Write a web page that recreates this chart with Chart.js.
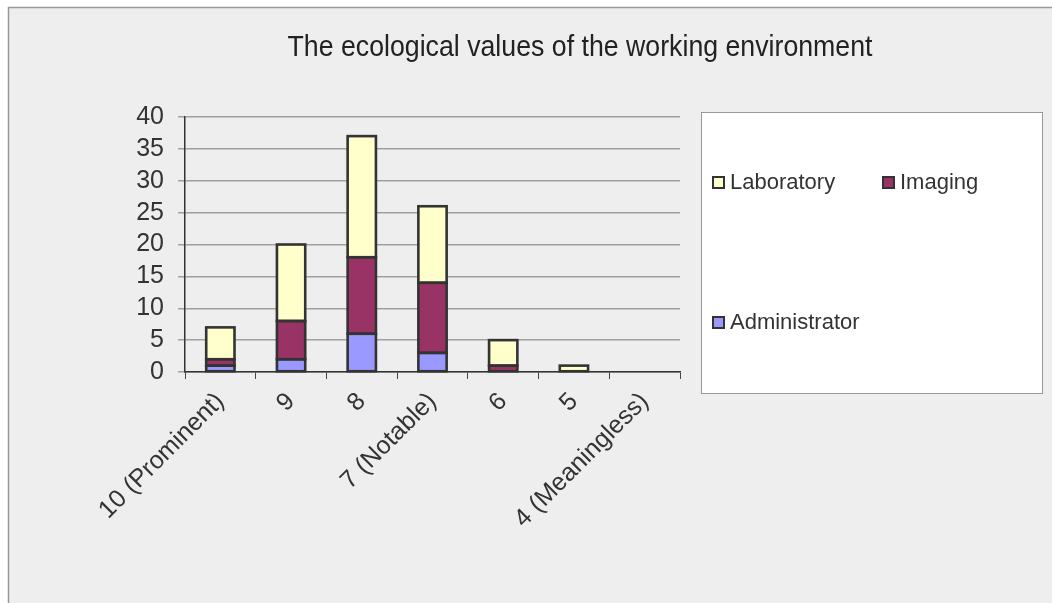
<!DOCTYPE html>
<html>
<head>
<meta charset="utf-8">
<script src="https://cdn.jsdelivr.net/npm/chart.js@4.4.1/dist/chart.umd.min.js"></script>
<style>
  html, body { margin: 0; padding: 0; background: #ffffff; }
  #wrap { position: relative; width: 1052px; height: 603px; }
</style>
</head>
<body>
<div id="wrap"><canvas id="chart" width="1052" height="603"></canvas></div>
<script>
// Rating categories (x axis)
const categories = ['10 (Prominent)', '9', '8', '7 (Notable)', '6', '5', '4 (Meaningless)'];

// Number of answers per rating, by workplace
const administrator = [1, 2, 6, 3, 0, 0, 0];
const imaging       = [1, 6, 12, 11, 1, 0, 0];
const laboratory    = [5, 12, 19, 12, 4, 1, 0];

// Y axis range
const yMin = 0;
const yMax = 40;
const yStep = 5;

const chartTitle = 'The ecological values of the working environment';

const FONT = '"Liberation Sans", Arial, sans-serif';
const TEXT = '#333333';
const OUTLINE = '#333333';

// Dark outline centred on each bar segment's edges (so thin segments keep their fill)
const outlinePlugin = {
  id: 'outline',
  afterDatasetsDraw(chart) {
    const ctx = chart.ctx;
    ctx.save();
    ctx.strokeStyle = OUTLINE;
    ctx.lineWidth = 2.6;
    chart.data.datasets.forEach((d, i) => {
      const meta = chart.getDatasetMeta(i);
      meta.data.forEach((bar, j) => {
        if (!d.data[j]) return;
        const p = bar.getProps(['x', 'y', 'base', 'width']);
        const top = Math.min(p.y, p.base);
        const h = Math.abs(p.base - p.y);
        ctx.strokeRect(p.x - p.width / 2, top, p.width, h);
      });
    });
    ctx.restore();
  }
};

// Grey frame, background, title and boxed legend drawn around the plot
const framePlugin = {
  id: 'frame',
  beforeDraw(chart) {
    const ctx = chart.ctx;
    ctx.save();
    ctx.fillStyle = '#ffffff';
    ctx.fillRect(0, 0, chart.width, chart.height);
    ctx.fillStyle = '#eeeeee';
    ctx.fillRect(8, 7, chart.width - 8, chart.height - 7);
    ctx.strokeStyle = '#999999';
    ctx.lineWidth = 1.5;
    ctx.beginPath();
    ctx.moveTo(8.5, chart.height);
    ctx.lineTo(8.5, 7.5);
    ctx.lineTo(chart.width, 7.5);
    ctx.stroke();
    ctx.restore();
  },
  afterDraw(chart) {
    const ctx = chart.ctx;
    ctx.save();
    // title, set in a condensed width
    ctx.fillStyle = '#222222';
    ctx.font = '29px ' + FONT;
    ctx.textAlign = 'center';
    ctx.textBaseline = 'middle';
    const tw = ctx.measureText(chartTitle).width;
    const target = 585;
    ctx.translate(580, 48);
    ctx.scale(target / tw, 1);
    ctx.fillText(chartTitle, 0, 0);
    ctx.restore();

    // legend box
    ctx.save();
    const bx = 701, by = 112, bw = 341, bh = 281;
    ctx.fillStyle = '#ffffff';
    ctx.fillRect(bx, by, bw, bh);
    ctx.strokeStyle = '#999999';
    ctx.lineWidth = 1;
    ctx.strokeRect(bx + 0.5, by + 0.5, bw, bh);
    const ds = chart.data.datasets;
    const slots = [
      { i: 2, x: 712, y: 182 },
      { i: 1, x: 882, y: 182 },
      { i: 0, x: 712, y: 322 }
    ];
    ctx.font = '22px ' + FONT;
    ctx.textBaseline = 'middle';
    ctx.textAlign = 'left';
    slots.forEach(s => {
      const d = ds[s.i];
      ctx.fillStyle = OUTLINE;
      ctx.fillRect(s.x, s.y - 6, 13, 13);
      ctx.fillStyle = d.backgroundColor;
      ctx.fillRect(s.x + 2, s.y - 4, 9, 9);
      ctx.fillStyle = TEXT;
      ctx.fillText(d.label, s.x + 18, s.y + 1);
    });
    ctx.restore();
  }
};

new Chart(document.getElementById('chart'), {
  type: 'bar',
  data: {
    labels: categories,
    datasets: [
      { label: 'Administrator', data: administrator, backgroundColor: '#9999ff' },
      { label: 'Imaging', data: imaging, backgroundColor: '#993366' },
      { label: 'Laboratory', data: laboratory, backgroundColor: '#ffffcc' }
    ].map(d => Object.assign(d, {
      borderWidth: 0,
      categoryPercentage: 0.8,
      barPercentage: 0.5
    }))
  },
  options: {
    responsive: false,
    animation: false,
    events: [],
    layout: { padding: { left: 0, right: 372, top: 117, bottom: 0 } },
    plugins: {
      legend: { display: false },
      title: { display: false },
      tooltip: { enabled: false }
    },
    scales: {
      x: {
        stacked: true,
        grid: {
          display: true,
          drawOnChartArea: false,
          drawTicks: true,
          tickLength: 7,
          color: '#444444',
          offset: true
        },
        border: { color: '#333333', width: 1.5 },
        ticks: {
          color: TEXT,
          font: { family: FONT, size: 25 },
          maxRotation: 45,
          minRotation: 45,
          padding: 8,
          autoSkip: false
        },
        afterFit(scale) { scale.height = 231; }
      },
      y: {
        stacked: true,
        min: yMin,
        max: yMax,
        ticks: {
          stepSize: yStep,
          color: TEXT,
          font: { family: FONT, size: 25, lineHeight: 0.8 },
          padding: 14,
          autoSkip: false
        },
        grid: {
          color: '#a0a0a0',
          lineWidth: 1.5,
          tickLength: 7,
          drawTicks: true
        },
        border: { color: '#333333', width: 1.5 },
        afterFit(scale) { scale.width = 185; }
      }
    }
  },
  plugins: [outlinePlugin, framePlugin]
});
</script>
</body>
</html>
